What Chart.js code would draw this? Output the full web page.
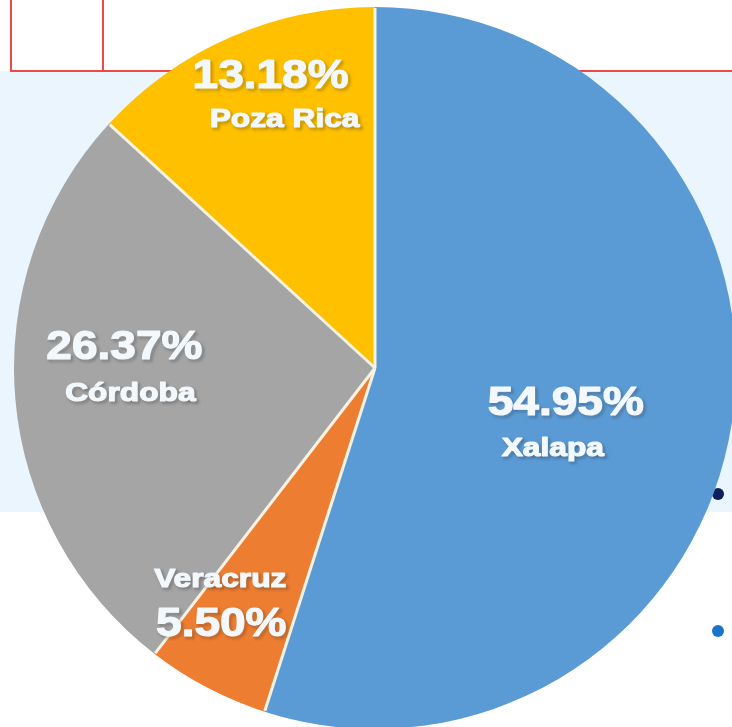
<!DOCTYPE html>
<html>
<head>
<meta charset="utf-8">
<script src="https://cdn.jsdelivr.net/npm/chart.js@4.4.1/dist/chart.umd.min.js"></script>
<style>
  html, body { margin: 0; padding: 0; width: 732px; height: 727px; overflow: hidden; background: #ffffff; }
  #band { position: absolute; left: 0; top: 71px; width: 732px; height: 441px; background: #eaf5fd; }
  .rl { position: absolute; background: #f04848; }
  .dot { position: absolute; width: 12px; height: 12px; border-radius: 50%; }
  #wrap { position: absolute; left: 14px; top: 7px; width: 722px; height: 722px; }
</style>
</head>
<body>
<div id="band"></div>
<div class="rl" style="left:10px;top:70px;width:722px;height:1.5px;"></div>
<div class="rl" style="left:10px;top:0;width:1.5px;height:71px;"></div>
<div class="rl" style="left:102px;top:0;width:1.5px;height:71px;"></div>
<div class="dot" style="left:712px;top:488px;background:#0d1f5e;"></div>
<div class="dot" style="left:712px;top:625px;background:#1a74c8;"></div>
<div id="wrap"><canvas id="c" width="722" height="722"></canvas></div>
<script>
const categories = ['Xalapa', 'Veracruz', 'Córdoba', 'Poza Rica'];
const shares = [54.95, 5.50, 26.37, 13.18];
const pctLabels = ['54.95%', '5.50%', '26.37%', '13.18%'];
const sliceColors = ['#5b9bd5', '#ed7d31', '#a5a5a5', '#ffc000'];

// label layout: radial fraction, angular nudge (deg), per-line offsets
const labelLayout = [
  { f: 0.535, da: 9.0, pct: [7, -23], name: [-6, 21] },
  { f: 0.776, da: 5.8, pct: [1, 23],  name: [0, -22] },
  { f: 0.686, da: 4.2, pct: [-3, -23], name: [3, 23] },
  { f: 0.792, da: 3.8, pct: [-7, -22], name: [7, 21] }
];

const separatorPlugin = {
  id: 'separators',
  afterDatasetsDraw(chart) {
    const ctx = chart.ctx;
    const meta = chart.getDatasetMeta(0);
    ctx.save();
    ctx.strokeStyle = '#f6f2e4';
    ctx.lineWidth = 3;
    ctx.lineCap = 'butt';
    meta.data.forEach((arc) => {
      const p = arc.getProps(['x', 'y', 'startAngle', 'outerRadius'], true);
      ctx.beginPath();
      ctx.moveTo(p.x, p.y);
      ctx.lineTo(p.x + Math.cos(p.startAngle) * (p.outerRadius - 1), p.y + Math.sin(p.startAngle) * (p.outerRadius - 1));
      ctx.stroke();
    });
    ctx.restore();
  }
};

const labelPlugin = {
  id: 'sliceLabels',
  afterDatasetsDraw(chart) {
    const ctx = chart.ctx;
    const meta = chart.getDatasetMeta(0);
    meta.data.forEach((arc, i) => {
      const p = arc.getProps(['x', 'y', 'startAngle', 'endAngle', 'outerRadius'], true);
      const L = labelLayout[i];
      const mid = (p.startAngle + p.endAngle) / 2 + L.da * Math.PI / 180;
      const ax = p.x + Math.cos(mid) * p.outerRadius * L.f;
      const ay = p.y + Math.sin(mid) * p.outerRadius * L.f;
      const drawLine = (txt, off, size, sx) => {
        ctx.save();
        ctx.translate(ax + off[0], ay + off[1]);
        ctx.scale(sx, 1);
        ctx.font = 'bold ' + size + 'px "Liberation Sans", Arial, sans-serif';
        ctx.textAlign = 'center';
        ctx.textBaseline = 'middle';
        ctx.shadowColor = 'rgba(40,40,40,0.55)';
        ctx.shadowBlur = 3;
        ctx.shadowOffsetX = 2;
        ctx.shadowOffsetY = 2;
        ctx.fillStyle = '#f3f8fc';
        ctx.strokeStyle = '#f3f8fc';
        ctx.lineWidth = 1.2;
        ctx.lineJoin = 'round';
        ctx.strokeText(txt, 0, 0);
        ctx.shadowColor = 'rgba(0,0,0,0)';
        ctx.fillText(txt, 0, 0);
        ctx.restore();
      };
      drawLine(pctLabels[i], L.pct, 40, 1.15);
      drawLine(categories[i], L.name, 26, 1.22);
    });
  }
};

new Chart(document.getElementById('c'), {
  type: 'pie',
  data: {
    labels: categories,
    datasets: [{
      data: shares,
      backgroundColor: sliceColors,
      borderWidth: 0
    }]
  },
  options: {
    responsive: false,
    animation: false,
    devicePixelRatio: 1,
    layout: { padding: 0 },
    plugins: {
      legend: { display: false },
      tooltip: { enabled: false }
    }
  },
  plugins: [separatorPlugin, labelPlugin]
});
</script>
</body>
</html>
